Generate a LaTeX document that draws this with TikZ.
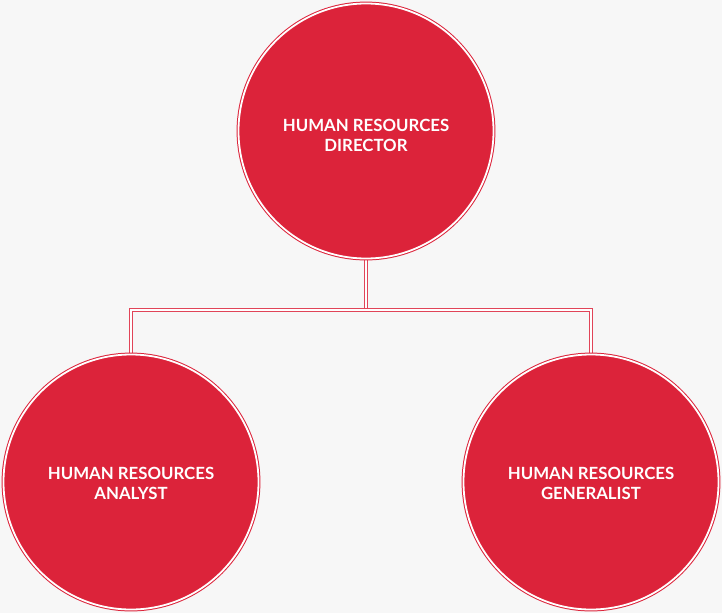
\documentclass[tikz,border=0pt]{standalone}
\usepackage{fontspec}
\setmainfont{Lato}
\definecolor{crim}{RGB}{220,35,58}
\definecolor{bgc}{RGB}{247,247,247}
\pgfdeclarelayer{bg}
\pgfdeclarelayer{connl}
\pgfsetlayers{bg,connl,main}
\tikzset{
  role/.style={circle, fill=crim, draw=crim, double=white, line width=1pt, double distance=1.8pt,
    minimum size=255pt, inner sep=0pt, text=white, align=center,
    font=\fontsize{16.8}{20}\selectfont\bfseries},
  conn/.style={draw=crim!85, double=white, line width=1.2pt, double distance=2.2pt}
}
\begin{document}
\begin{tikzpicture}[x=1pt,y=-1pt]
\begin{pgfonlayer}{bg}
\fill[bgc] (0,0) rectangle (722,613);
\end{pgfonlayer}
\useasboundingbox (0,0) rectangle (722,613);
\node[role] (dir) at (366,131) {};
\node[role] (ana) at (131,482) {};
\node[role] (gen) at (591,482) {};
\node[role, draw=none, fill=none, minimum size=0pt] (dirt) at ([yshift=-4pt]dir.center) {HUMAN RESOURCES\\DIRECTOR};
\node[role, draw=none, fill=none, minimum size=0pt] (anat) at ([yshift=-1.5pt]ana.center) {HUMAN RESOURCES\\ANALYST};
\node[role, draw=none, fill=none, minimum size=0pt] (gent) at ([yshift=-1.5pt]gen.center) {HUMAN RESOURCES\\GENERALIST};
\coordinate (bus) at (0,310);
\begin{pgfonlayer}{connl}
\draw[conn] (dir.south) -- (dir.south |- bus);
\draw[conn] (ana.north) -- (ana.north |- bus) -- (gen.north |- bus) -- (gen.north);
\end{pgfonlayer}
\end{tikzpicture}
\end{document}
